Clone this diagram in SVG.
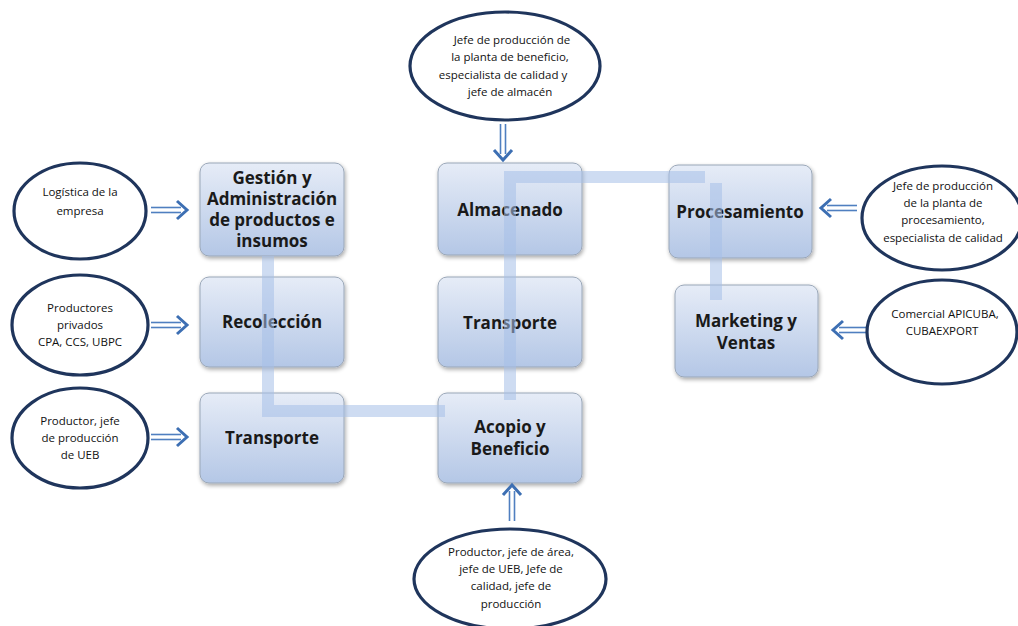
<svg xmlns="http://www.w3.org/2000/svg" width="1018" height="626" viewBox="0 0 1018 626">
<defs>
<linearGradient id="bg" x1="0" y1="0" x2="0" y2="1">
<stop offset="0" stop-color="#e6ecf7"/>
<stop offset="1" stop-color="#b4c7e6"/>
</linearGradient>
<filter id="sh" x="-10%" y="-10%" width="130%" height="130%">
<feGaussianBlur in="SourceAlpha" stdDeviation="2"/>
<feOffset dx="1" dy="2"/>
<feComponentTransfer><feFuncA type="linear" slope="0.35"/></feComponentTransfer>
<feMerge><feMergeNode/><feMergeNode in="SourceGraphic"/></feMerge>
</filter>
<g id="arr">
<line x1="0" y1="-2.5" x2="30" y2="-2.5" stroke="#4f7fc0" stroke-width="1.6"/>
<line x1="0" y1="2.5" x2="30" y2="2.5" stroke="#4f7fc0" stroke-width="1.6"/>
<polyline points="26,-9 36,0 26,9" fill="none" stroke="#3d6fb3" stroke-width="3" stroke-linejoin="miter"/>
</g>
</defs>
<style>
.box{fill:url(#bg);stroke:#9aa7b8;stroke-width:1;filter:url(#sh)}
.bt{font-family:"Open Sans","Liberation Sans",sans-serif;font-weight:bold;font-size:17px;fill:#1a1a1a;text-anchor:middle}
.el{fill:#fff;stroke:#1f355c;stroke-width:3.2}
.et{font-family:"Open Sans","Liberation Sans",sans-serif;font-size:11.5px;fill:#111;text-anchor:middle}
.band{stroke:#a6c0e8;stroke-width:12;fill:none}
.bands{opacity:0.55}
</style>
<g id="n-gestion"><rect class="box" x="200" y="163" width="144" height="93" rx="9"/>
<text class="bt" x="272" y="184">Gestión y</text><text class="bt" x="272" y="205">Administración</text><text class="bt" x="272" y="226">de productos  e</text><text class="bt" x="272" y="247">insumos</text></g>
<g id="n-recoleccion"><rect class="box" x="200" y="277" width="144" height="90" rx="9"/>
<text class="bt" x="272" y="328">Recolección</text></g>
<g id="n-transporte1"><rect class="box" x="200" y="393" width="144" height="90" rx="9"/>
<text class="bt" x="272" y="444">Transporte</text></g>
<g id="n-almacenado"><rect class="box" x="438" y="163" width="144" height="92" rx="9"/>
<text class="bt" x="510" y="216">Almacenado</text></g>
<g id="n-transporte2"><rect class="box" x="438" y="277" width="144" height="90" rx="9"/>
<text class="bt" x="510" y="329">Transporte</text></g>
<g id="n-acopio"><rect class="box" x="438" y="393" width="144" height="90" rx="9"/>
<text class="bt" x="510" y="433">Acopio y</text><text class="bt" x="510" y="455">Beneficio</text></g>
<g id="n-procesamiento"><rect class="box" x="669" y="165" width="143" height="93" rx="9"/>
<text class="bt" x="740" y="218">Procesamiento</text></g>
<g id="n-marketing"><rect class="box" x="675" y="285" width="143" height="92" rx="9"/>
<text class="bt" x="746" y="327">Marketing y</text><text class="bt" x="746" y="349">Ventas</text></g>
<g id="connectors">
<g class="bands">
<path class="band" d="M268,256 V405 M262,411 H445 M510,400 V177 H705 M716,183 V300"/>
</g>
<use href="#arr" transform="translate(151,210)"/>
<use href="#arr" transform="translate(151,325)"/>
<use href="#arr" transform="translate(151,437)"/>
<use href="#arr" transform="translate(503,124) rotate(90)"/>
<use href="#arr" transform="translate(512,521) rotate(-90)"/>
<use href="#arr" transform="translate(857,208) rotate(180)"/>
<use href="#arr" transform="translate(869,330) rotate(180)"/>
</g>
<g id="e-logistica"><ellipse class="el" cx="80" cy="211" rx="66" ry="48"/>
<text class="et" x="80" y="196">Logística de la</text><text class="et" x="80" y="215">empresa</text></g>
<g id="e-productores"><ellipse class="el" cx="80" cy="325" rx="68" ry="50"/>
<text class="et" x="80" y="312">Productores</text><text class="et" x="80" y="329">privados</text><text class="et" x="80" y="346">CPA, CCS, UBPC</text></g>
<g id="e-ueb"><ellipse class="el" cx="80" cy="438" rx="68" ry="50"/>
<text class="et" x="80" y="425">Productor, jefe</text><text class="et" x="80" y="442">de producción</text><text class="et" x="80" y="459">de UEB</text></g>
<g id="e-top"><ellipse class="el" cx="505" cy="66" rx="95" ry="54"/>
<text class="et" x="512" y="44">Jefe de producción de</text><text class="et" x="510" y="61">la planta de beneficio,</text><text class="et" x="503" y="79">especialista de calidad y</text><text class="et" x="510" y="96">jefe de almacén</text></g>
<g id="e-bottom"><ellipse class="el" cx="510" cy="579" rx="96" ry="50"/>
<text class="et" x="511" y="556">Productor, jefe de área,</text><text class="et" x="511" y="573">jefe de UEB, Jefe de</text><text class="et" x="511" y="590">calidad, jefe de</text><text class="et" x="511" y="608">producción</text></g>
<g id="e-procesamiento"><ellipse class="el" cx="942" cy="218" rx="80" ry="52"/>
<text class="et" x="943" y="190">Jefe de producción</text><text class="et" x="943" y="207">de la planta de</text><text class="et" x="943" y="224">procesamiento,</text><text class="et" x="943" y="242">especialista de calidad</text></g>
<g id="e-comercial"><ellipse class="el" cx="942" cy="332" rx="75" ry="52"/>
<text class="et" x="945" y="318">Comercial APICUBA,</text><text class="et" x="942" y="335">CUBAEXPORT</text></g>
</svg>
